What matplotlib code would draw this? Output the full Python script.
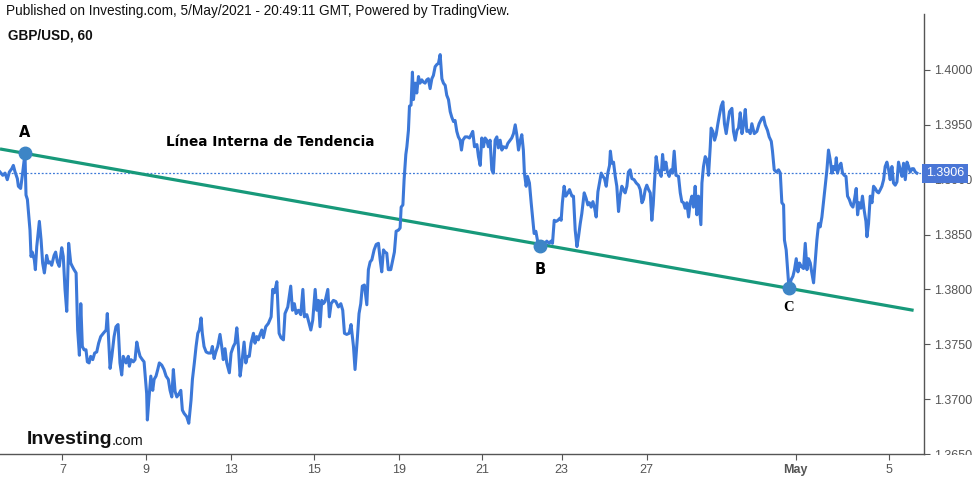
import numpy as np
import matplotlib
matplotlib.use('Agg')
import matplotlib.pyplot as plt
from matplotlib.patches import Rectangle
from matplotlib.transforms import blended_transform_factory

# GBP/USD hourly closes, hours counted from 5 Apr 2021 12:00 GMT (trading hours only)
hours = [0.0, 1.6, 2.9, 4.2, 5.4, 6.8, 7.7, 8.7, 10.0, 10.6, 11.9, 12.9, 14.4, 15.0, 15.8, 17.3, 17.9, 18.6, 19.8, 20.4,
         21.2, 22.7, 23.7, 24.6, 25.6, 26.9, 27.9, 28.9, 29.8, 31.2, 32.1, 33.1, 34.2, 35.6, 36.5, 37.5, 38.5, 39.6, 40.8, 41.7,
         42.7, 43.9, 44.8, 45.8, 46.6, 47.5, 48.5, 49.6, 50.4, 51.4, 52.3, 53.5, 54.6, 55.8, 56.9, 58.1, 59.6, 61.2, 61.9, 63.5,
         64.5, 65.8, 66.9, 68.1, 69.2, 70.2, 71.1, 72.7, 74.0, 74.6, 75.6, 76.9, 77.9, 78.9, 79.8, 80.8, 82.1, 83.1, 84.6, 85.0,
         86.0, 87.0, 88.1, 88.9, 90.0, 91.0, 91.9, 93.3, 94.6, 95.8, 97.1, 98.1, 99.1, 100.0, 101.0, 102.0, 103.3, 104.3, 105.2, 106.2,
         107.7, 108.9, 110.2, 111.0, 112.1, 113.1, 114.1, 115.0, 116.0, 116.7, 117.7, 118.9, 120.2, 121.6, 122.5, 123.5, 124.5, 125.6, 126.9, 127.9,
         128.8, 129.8, 130.8, 132.3, 133.3, 134.6, 135.6, 136.6, 137.5, 138.5, 139.5, 140.8, 141.8, 142.7, 143.8, 144.8, 146.2, 147.1, 148.1, 149.0,
         150.0, 151.0, 151.9, 153.3, 154.8, 156.4, 157.3, 158.3, 159.7, 161.0, 162.1, 163.5, 164.4, 166.0, 167.7, 168.7, 169.8, 170.8, 172.1, 173.5,
         174.7, 175.6, 177.0, 178.3, 179.3, 180.4, 181.8, 182.7, 183.7, 184.6, 185.6, 186.5, 187.5, 189.1, 190.0, 191.0, 192.3, 193.7, 195.2, 196.6,
         197.7, 198.7, 200.0, 201.4, 202.5, 203.9, 204.8, 206.2, 207.1, 208.1, 209.0, 210.2, 211.6, 212.5, 213.5, 214.5, 215.8, 217.0, 218.3, 219.3,
         220.2, 221.2, 222.1, 223.1, 224.0, 225.4, 226.6, 227.5, 228.5, 229.8, 230.8, 231.4, 232.4, 233.1, 234.1, 234.7, 235.6, 236.2, 237.1, 237.9,
         238.5, 239.5, 240.4, 241.4, 242.3, 243.3, 244.2, 245.2, 246.2, 247.1, 248.1, 249.1, 250.0, 251.0, 252.0, 252.9, 253.9, 254.9, 255.8, 256.8,
         257.7, 258.7, 259.7, 260.6, 261.6, 262.5, 263.5, 264.4, 265.4, 266.2, 267.0, 268.3, 269.6, 270.8, 271.8, 272.7, 273.7, 275.1, 276.0, 277.0,
         277.9, 278.9, 279.8, 280.8, 281.7, 282.7, 283.7, 284.6, 285.6, 286.6, 287.5, 288.5, 289.5, 290.4, 292.0, 292.9, 294.3, 295.2, 296.2, 297.2,
         298.1, 299.1, 300.0, 301.0, 301.9, 302.5, 303.5, 304.3, 305.4, 306.4, 307.4, 308.1, 309.1, 310.0, 311.2, 312.6, 313.9, 315.4, 316.8, 317.8,
         318.7, 319.7, 320.8, 321.8, 323.1, 323.7, 324.4, 325.4, 326.4, 327.6, 328.5, 329.9, 330.8, 331.8, 332.8, 333.7, 334.7, 335.6, 337.0, 338.1,
         339.1, 340.0, 341.0, 342.0, 342.9, 343.9, 344.9, 345.8, 346.8, 347.8, 348.7, 349.7, 350.6, 351.6, 352.1, 352.9, 353.9, 354.9, 355.8, 356.8,
         357.7, 358.7, 359.6, 360.6, 361.6, 362.5, 363.5, 364.5, 365.8, 367.0, 368.3, 369.3, 370.3, 371.2, 372.2, 373.1, 374.1, 375.1, 376.0, 376.8,
         377.5, 378.5, 379.5, 380.4, 381.4, 382.2, 383.1, 384.1, 385.0, 386.0, 387.0, 387.9, 388.9, 389.9, 391.4, 392.4, 393.3, 394.3, 395.2, 396.2,
         397.2, 398.1, 399.1, 400.0, 401.0, 402.0, 402.9, 404.3, 404.9, 405.8, 406.8, 407.8, 408.7, 409.7, 410.2, 411.2, 412.2, 413.1, 414.1, 415.0,
         416.0, 417.0, 417.9, 418.9, 419.9, 420.8, 422.2, 423.1, 424.1, 425.1, 426.0, 427.0, 428.0, 428.9, 429.9, 430.8, 431.8, 432.8, 433.7, 435.1,
         436.6, 437.9, 439.5, 440.4, 441.4, 442.7, 443.7, 444.9, 445.6, 446.6, 447.8, 449.1, 450.1, 451.0, 452.0, 452.5, 453.5, 454.3, 455.1, 456.4,
         457.4, 458.3, 459.3, 460.3, 461.2, 462.2, 463.5, 464.5, 465.5, 466.4, 467.4, 468.3, 469.3, 470.3, 471.2, 472.2, 473.1, 474.1, 475.0, 476.0,
         477.0, 477.9, 478.9, 479.9, 480.8, 481.8, 482.4, 483.1, 484.1, 485.1, 486.0, 487.0, 488.0, 488.9, 489.9, 491.0, 492.0, 492.9, 493.9, 494.7,
         495.6, 496.6, 497.5, 498.5, 499.5, 500.1, 501.0, 502.0, 503.0, 503.9, 504.9, 505.9, 506.8, 507.8, 508.7, 509.7, 510.6, 511.6, 512.6, 513.5,
         514.5, 515.4, 516.4, 517.4, 518.3, 519.3, 520.3, 521.2, 522.2, 523.2, 524.1, 525.1, 526.1, 527.0, 528.0, 528.9]

close = [1.3907, 1.3904, 1.3906, 1.3900, 1.3907, 1.3910, 1.3913, 1.3907, 1.3901, 1.3894, 1.3892, 1.3904, 1.3924, 1.3886, 1.3882, 1.3854, 1.3830, 1.3834, 1.3827, 1.3818,
         1.3839, 1.3862, 1.3845, 1.3824, 1.3815, 1.3831, 1.3824, 1.3825, 1.3822, 1.3831, 1.3834, 1.3825, 1.3821, 1.3838, 1.3830, 1.3800, 1.3780, 1.3842, 1.3824, 1.3821,
         1.3818, 1.3815, 1.3763, 1.3740, 1.3787, 1.3748, 1.3745, 1.3745, 1.3734, 1.3733, 1.3739, 1.3736, 1.3742, 1.3743, 1.3751, 1.3757, 1.3760, 1.3763, 1.3778, 1.3728,
         1.3739, 1.3757, 1.3766, 1.3768, 1.3733, 1.3722, 1.3739, 1.3733, 1.3739, 1.3730, 1.3736, 1.3734, 1.3736, 1.3752, 1.3745, 1.3739, 1.3736, 1.3734, 1.3705, 1.3681,
         1.3702, 1.3721, 1.3708, 1.3718, 1.3721, 1.3727, 1.3733, 1.3731, 1.3727, 1.3721, 1.3718, 1.3708, 1.3702, 1.3727, 1.3707, 1.3702, 1.3705, 1.3708, 1.3690, 1.3687,
         1.3684, 1.3678, 1.3699, 1.3718, 1.3733, 1.3748, 1.3760, 1.3763, 1.3774, 1.3760, 1.3748, 1.3743, 1.3742, 1.3742, 1.3748, 1.3737, 1.3743, 1.3748, 1.3759, 1.3748,
         1.3736, 1.3746, 1.3733, 1.3724, 1.3742, 1.3748, 1.3751, 1.3765, 1.3748, 1.3721, 1.3733, 1.3752, 1.3733, 1.3739, 1.3739, 1.3751, 1.3760, 1.3751, 1.3757, 1.3754,
         1.3759, 1.3763, 1.3756, 1.3766, 1.3769, 1.3775, 1.3800, 1.3797, 1.3807, 1.3760, 1.3756, 1.3754, 1.3778, 1.3784, 1.3803, 1.3781, 1.3787, 1.3778, 1.3781, 1.3777,
         1.3800, 1.3775, 1.3777, 1.3769, 1.3763, 1.3772, 1.3800, 1.3781, 1.3790, 1.3766, 1.3790, 1.3787, 1.3789, 1.3800, 1.3775, 1.3787, 1.3790, 1.3789, 1.3784, 1.3787,
         1.3781, 1.3760, 1.3759, 1.3760, 1.3768, 1.3748, 1.3727, 1.3757, 1.3778, 1.3787, 1.3803, 1.3804, 1.3786, 1.3818, 1.3825, 1.3827, 1.3836, 1.3841, 1.3842, 1.3827,
         1.3816, 1.3836, 1.3834, 1.3833, 1.3818, 1.3818, 1.3827, 1.3834, 1.3853, 1.3854, 1.3856, 1.3875, 1.3877, 1.3900, 1.3923, 1.3930, 1.3945, 1.3967, 1.3968, 1.3998,
         1.3973, 1.3988, 1.3979, 1.3994, 1.3988, 1.3991, 1.3989, 1.3988, 1.3991, 1.3992, 1.3983, 1.3992, 1.3995, 1.4003, 1.4005, 1.4006, 1.4014, 1.3992, 1.3988, 1.3986,
         1.3977, 1.3973, 1.3962, 1.3957, 1.3953, 1.3954, 1.3944, 1.3939, 1.3936, 1.3927, 1.3936, 1.3939, 1.3939, 1.3938, 1.3941, 1.3944, 1.3930, 1.3932, 1.3921, 1.3913,
         1.3938, 1.3930, 1.3938, 1.3936, 1.3930, 1.3936, 1.3909, 1.3906, 1.3936, 1.3939, 1.3929, 1.3936, 1.3927, 1.3930, 1.3929, 1.3933, 1.3936, 1.3938, 1.3942, 1.3950,
         1.3941, 1.3927, 1.3935, 1.3941, 1.3927, 1.3906, 1.3894, 1.3903, 1.3897, 1.3879, 1.3863, 1.3851, 1.3853, 1.3845, 1.3839, 1.3838, 1.3841, 1.3844, 1.3842, 1.3844,
         1.3842, 1.3863, 1.3862, 1.3863, 1.3865, 1.3863, 1.3879, 1.3894, 1.3885, 1.3888, 1.3891, 1.3885, 1.3885, 1.3854, 1.3839, 1.3848, 1.3860, 1.3869, 1.3888, 1.3883,
         1.3877, 1.3879, 1.3875, 1.3880, 1.3875, 1.3866, 1.3889, 1.3897, 1.3906, 1.3903, 1.3901, 1.3894, 1.3906, 1.3913, 1.3926, 1.3915, 1.3916, 1.3903, 1.3894, 1.3871,
         1.3885, 1.3894, 1.3891, 1.3888, 1.3894, 1.3907, 1.3909, 1.3901, 1.3900, 1.3897, 1.3895, 1.3891, 1.3879, 1.3882, 1.3891, 1.3895, 1.3891, 1.3888, 1.3863, 1.3877,
         1.3897, 1.3921, 1.3910, 1.3907, 1.3903, 1.3923, 1.3909, 1.3916, 1.3907, 1.3903, 1.3909, 1.3906, 1.3926, 1.3904, 1.3903, 1.3888, 1.3880, 1.3879, 1.3874, 1.3879,
         1.3866, 1.3879, 1.3885, 1.3875, 1.3894, 1.3868, 1.3885, 1.3859, 1.3897, 1.3912, 1.3921, 1.3918, 1.3904, 1.3930, 1.3947, 1.3944, 1.3936, 1.3941, 1.3951, 1.3959,
         1.3967, 1.3971, 1.3951, 1.3942, 1.3953, 1.3962, 1.3965, 1.3944, 1.3936, 1.3945, 1.3947, 1.3961, 1.3942, 1.3950, 1.3964, 1.3944, 1.3945, 1.3942, 1.3951, 1.3942,
         1.3944, 1.3951, 1.3956, 1.3957, 1.3950, 1.3945, 1.3939, 1.3935, 1.3926, 1.3909, 1.3907, 1.3909, 1.3906, 1.3879, 1.3877, 1.3845, 1.3836, 1.3818, 1.3801, 1.3809,
         1.3812, 1.3818, 1.3828, 1.3816, 1.3824, 1.3821, 1.3819, 1.3842, 1.3818, 1.3828, 1.3824, 1.3815, 1.3806, 1.3827, 1.3845, 1.3860, 1.3857, 1.3866, 1.3879, 1.3894,
         1.3909, 1.3927, 1.3918, 1.3906, 1.3912, 1.3909, 1.3920, 1.3906, 1.3912, 1.3915, 1.3906, 1.3904, 1.3903, 1.3885, 1.3882, 1.3877, 1.3875, 1.3882, 1.3892, 1.3868,
         1.3879, 1.3874, 1.3885, 1.3872, 1.3862, 1.3848, 1.3860, 1.3885, 1.3879, 1.3894, 1.3892, 1.3889, 1.3888, 1.3891, 1.3894, 1.3900, 1.3912, 1.3916, 1.3909, 1.3900,
         1.3912, 1.3897, 1.3895, 1.3898, 1.3916, 1.3909, 1.3903, 1.3915, 1.3900, 1.3916, 1.3912, 1.3907, 1.3910, 1.3910, 1.3907, 1.3906]

last_price = 1.3906

# trend line anchors (A and C) and pivot points
trend_hours = [14.4, 455.1]
trend_prices = [1.3924, 1.3801]
trend_span = [0, 527]
pivot_labels = ['A', 'B', 'C']
pivot_hours = [14.4, 311.6, 455.1]
pivot_prices = [1.3924, 1.3840, 1.3801]

tick_hours = [36, 84, 133, 181, 230, 278, 324, 373, 459, 513]
tick_labels = ['7', '9', '13', '15', '19', '21', '23', '27', 'May', '5']
y_ticks = [1.3650, 1.3700, 1.3750, 1.3800, 1.3850, 1.3900, 1.3950, 1.4000]

blue = '#3c78d8'
green = '#17997a'
grey = '#555555'

fig = plt.figure(figsize=(9.76, 4.79), dpi=100)
ax = fig.add_axes([0, 25 / 479, 924 / 976, 440 / 479])

ax.plot(hours, close, color=blue, lw=2.2, zorder=3)

slope, icpt = np.polyfit(trend_hours, trend_prices, 1)
tx = np.array(trend_span)
ax.plot(tx, slope * tx + icpt, color=green, lw=2.3, zorder=2, solid_capstyle='butt')

ax.axhline(last_price, color=blue, lw=0.9, ls=(0, (1.5, 1.5)), zorder=1)

ax.plot(pivot_hours, pivot_prices, 'o', ms=9, color='#3d85c6', zorder=5)
offsets = {'A': 15, 'B': -17, 'C': -14}
for lab, hx, py in zip(pivot_labels, pivot_hours, pivot_prices):
    fam = 'Liberation Serif' if lab == 'C' else 'DejaVu Sans'
    ax.annotate(lab, (hx, py), xytext=(0, offsets[lab]), textcoords='offset points',
                ha='center', va='center', fontsize=10.5, fontweight='bold', family=fam, color='black')

ax.text(155.8, 1.39344, 'Línea Interna de Tendencia', ha='center', va='center',
        fontsize=9.8, fontweight='bold', color='black')

ax.set_xlim(0, 533)
ax.set_ylim(1.3650, 1.4051)
ax.yaxis.tick_right()
ax.set_yticks(y_ticks)
ax.set_yticklabels([f'{v:.4f}' for v in y_ticks], family='Liberation Sans')
ax.set_xticks(tick_hours)
ax.set_xticklabels(tick_labels, family=['Liberation Sans Narrow', 'Liberation Sans'])
for t in ax.get_xticklabels():
    if t.get_text() == 'May':
        t.set_fontweight('bold')
        t.set_color('#333333')
ax.tick_params(axis='y', length=4, width=0.8, color=grey, labelcolor=grey, labelsize=9, pad=3)
ax.tick_params(axis='x', length=4, width=0.8, color=grey, labelcolor=grey, labelsize=9, pad=3)
for s in ['left', 'top']:
    ax.spines[s].set_visible(False)
for s in ['right', 'bottom']:
    ax.spines[s].set_color(grey)
    ax.spines[s].set_linewidth(1.0)

# last price tag (covers the 1.3900 label, as on the source chart)
trans = blended_transform_factory(ax.transAxes, ax.transData)
ax.text(1.002, last_price, f'{last_price:.4f}', transform=trans, ha='left', va='center',
        fontsize=9, color='white', family='Liberation Sans', clip_on=False, zorder=10,
        bbox=dict(boxstyle='square,pad=0.28', fc='#4a76d6', ec='none'))

# hide lower half of bottom y label like the source
fig.patches.append(Rectangle((926 / 976, 0), 50 / 976, 24 / 479, transform=fig.transFigure,
                             facecolor='white', edgecolor='none', zorder=20))

fig.text(6 / 976, 1 - 11 / 479, 'Published on Investing.com, 5/May/2021 - 20:49:11 GMT, Powered by TradingView.',
         ha='left', va='center', fontsize=9.8, family='Liberation Sans', color='#111111')
fig.text(8 / 976, 1 - 36 / 479, 'GBP/USD, 60', ha='left', va='center', fontsize=9.8,
         family='Liberation Sans', fontweight='bold', color='#111111')

logo = ax.text(27 / 924, 0.022, 'Investing', transform=ax.transAxes, ha='left', va='baseline',
               fontsize=14, fontweight='bold', family='Liberation Sans', color='#111111')
ax.annotate('.com', xy=(1, 0), xycoords=logo, xytext=(-1, 0), textcoords='offset points',
            ha='left', va='bottom', fontsize=10.5, family='Liberation Sans', color='#111111')

fig.savefig('out.png', dpi=100)
